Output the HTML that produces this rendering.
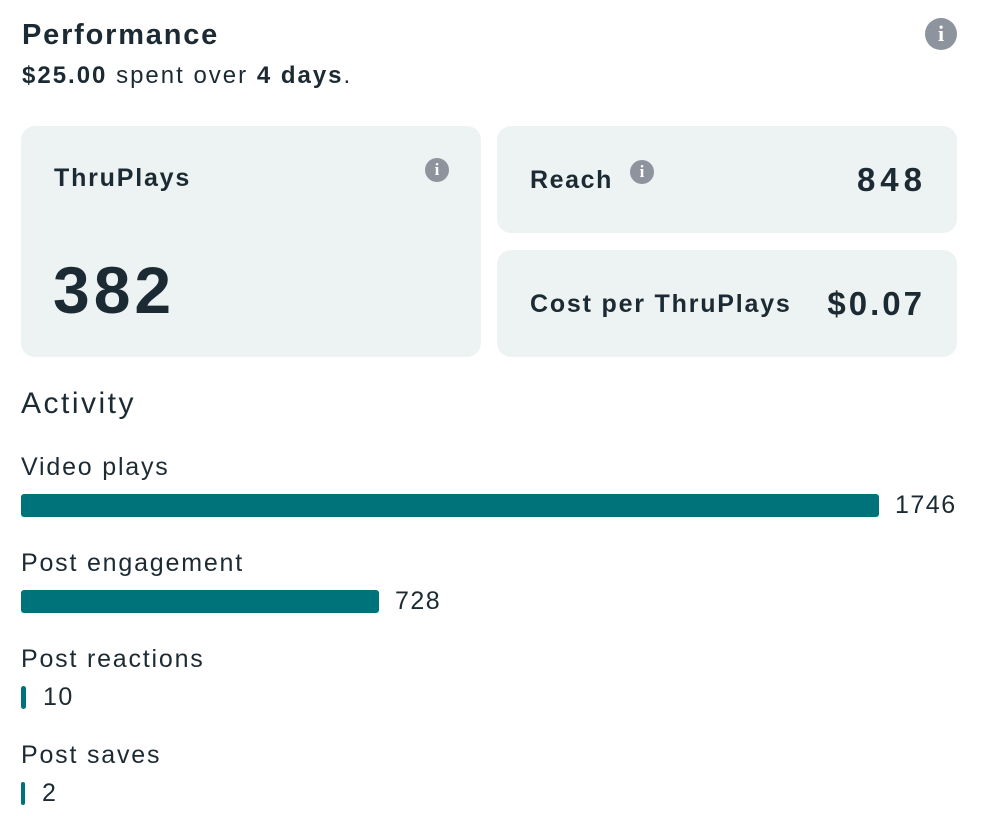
<!DOCTYPE html>
<html><head><meta charset="utf-8">
<style>
body{margin:0;width:984px;height:816px;background:#fff;font-family:"Liberation Sans",sans-serif;color:#1c2b33;position:relative;overflow:hidden}
.a{position:absolute;white-space:nowrap}
.card{position:absolute;background:#edf2f3;border-radius:14px}
.info{position:absolute;border-radius:50%;background:#8d949e;color:#fff;font-weight:bold;text-align:center;font-family:"Liberation Serif",serif}
.lbl{font-size:25px;position:absolute;left:21px;white-space:nowrap;letter-spacing:1.8px}
.bar{position:absolute;left:21px;height:23px;background:#00727a;border-radius:3px}
.val{position:absolute;font-size:25px;white-space:nowrap;letter-spacing:1.5px}
</style></head><body>
<div class="a" style="left:22px;top:19px;font-size:29px;font-weight:bold;letter-spacing:1.8px">Performance</div>
<div class="a" style="left:22px;top:62px;font-size:24px;letter-spacing:2px"><b>$25.00</b> spent over <b>4 days</b>.</div>
<div class="info" style="left:925px;top:18px;width:32px;height:32px;line-height:32px;font-size:22px">i</div>

<div class="card" style="left:21px;top:126px;width:460px;height:231px">
 <div class="a" style="left:33px;top:38px;font-size:25px;font-weight:bold;letter-spacing:1.8px">ThruPlays</div>
 <div class="info" style="left:404px;top:32px;width:24px;height:24px;line-height:24px;font-size:17px">i</div>
 <div class="a" style="left:32px;top:126px;font-size:66px;font-weight:bold;letter-spacing:4px">382</div>
</div>
<div class="card" style="left:497px;top:126px;width:460px;height:107px">
 <div class="a" style="left:33px;top:40px;font-size:25px;font-weight:bold;letter-spacing:1.6px">Reach</div>
 <div class="info" style="left:133px;top:34px;width:24px;height:24px;line-height:24px;font-size:17px">i</div>
 <div class="a" style="right:28px;top:35px;font-size:33px;font-weight:bold;letter-spacing:5px;margin-right:2px">848</div>
</div>
<div class="card" style="left:497px;top:250px;width:460px;height:107px">
 <div class="a" style="left:33px;top:40px;font-size:25px;font-weight:bold;letter-spacing:1.8px">Cost per ThruPlays</div>
 <div class="a" style="right:32px;top:35px;font-size:33px;font-weight:bold;letter-spacing:3px">$0.07</div>
</div>

<div class="a" style="left:21px;top:387px;font-size:30px;letter-spacing:2.5px">Activity</div>
<div id="chart"></div>
<script>
const categories=["Video plays","Post engagement","Post reactions","Post saves"];
const values=[1746,728,10,2];
const chart=document.getElementById('chart');
const maxW=858, minW=4, top0=453, step=96;
const maxV=Math.max(...values);
function xScale(v){return Math.max(minW,Math.round(v/maxV*maxW));}
categories.forEach((c,i)=>{
 const y=top0+i*step;
 const l=document.createElement('div');l.className='lbl';l.style.top=y+'px';l.textContent=c;
 
 
 chart.appendChild(l);
 const w=xScale(values[i]);
 const b=document.createElement('div');b.className='bar';b.style.top=(y+41)+'px';b.style.width=w+'px';
 
 
 chart.appendChild(b);
 const v=document.createElement('div');v.className='val';v.style.left=(21+w+(w>10?16:17))+'px';v.style.top=(y+38)+'px';v.textContent=values[i];
 
 
 chart.appendChild(v);
});
</script>
</body></html>
